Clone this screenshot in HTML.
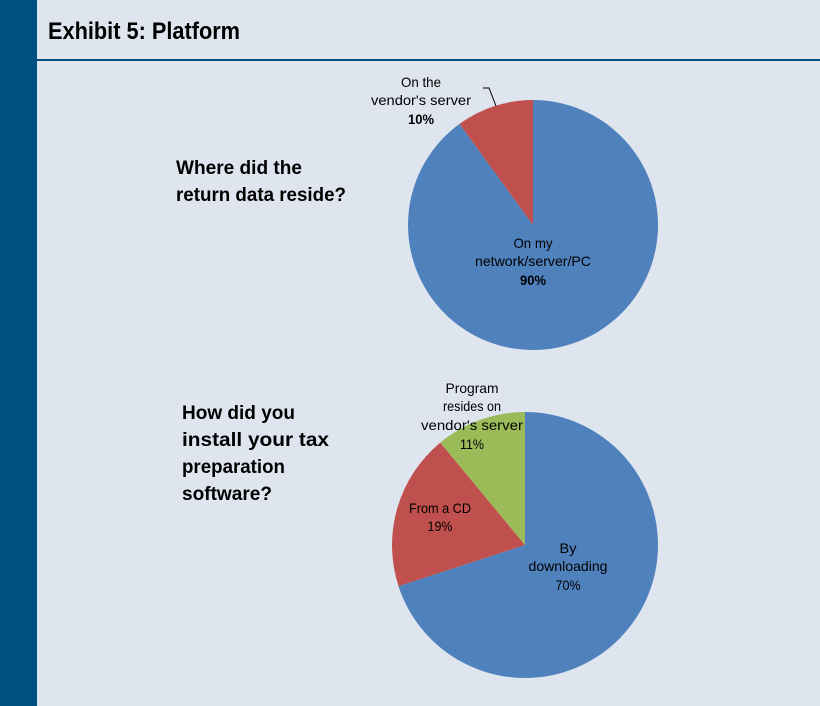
<!DOCTYPE html>
<html><head><style>body{margin:0;background:#dfe5ef}</style></head><body>
<svg width="820" height="706" xmlns="http://www.w3.org/2000/svg" style="display:block">
<rect width="820" height="706" fill="#dfe5ef"/>
<rect x="0" y="0" width="37" height="706" fill="#00507f"/>
<rect x="37" y="59" width="783" height="2" fill="#00507f"/>
<text x="48" y="39" font-family="Liberation Sans, sans-serif" font-weight="bold" font-size="24" textLength="192" lengthAdjust="spacingAndGlyphs">Exhibit 5: Platform</text>
<g font-family="Liberation Sans, sans-serif" font-weight="bold" font-size="19">
<text x="176" y="174" textLength="126" lengthAdjust="spacingAndGlyphs">Where did the</text>
<text x="176" y="201" textLength="170" lengthAdjust="spacingAndGlyphs">return data reside?</text>
<text x="182" y="419" textLength="113" lengthAdjust="spacingAndGlyphs">How did you</text>
<text x="182" y="446" textLength="147" lengthAdjust="spacingAndGlyphs">install your tax</text>
<text x="182" y="473" textLength="103" lengthAdjust="spacingAndGlyphs">preparation</text>
<text x="182" y="500" textLength="90" lengthAdjust="spacingAndGlyphs">software?</text>
</g>
<path d="M533,225 L533,100 A125,125 0 1 1 459.5,123.9 Z" fill="#4f81bd"/>
<path d="M533,225 L459.5,123.9 A125,125 0 0 1 533,100 Z" fill="#c0504d"/>
<path d="M525,545 L525,412 A133,133 0 1 1 398.5,586.1 Z" fill="#4f81bd"/>
<path d="M525,545 L398.5,586.1 A133,133 0 0 1 440.3,442.6 Z" fill="#c0504d"/>
<path d="M525,545 L440.3,442.6 A133,133 0 0 1 525,412 Z" fill="#9bbb59"/>
<polyline points="483,88 489,88 496,106" fill="none" stroke="#000" stroke-width="1"/>
<g font-family="Liberation Sans, sans-serif" font-size="14" text-anchor="middle" lengthAdjust="spacingAndGlyphs">
<text x="421" y="87" textLength="40" lengthAdjust="spacingAndGlyphs">On the</text>
<text x="421" y="105" textLength="100" lengthAdjust="spacingAndGlyphs">vendor's server</text>
<text x="421" y="124" font-weight="bold" textLength="26" lengthAdjust="spacingAndGlyphs">10%</text>
<text x="533" y="248" textLength="39" lengthAdjust="spacingAndGlyphs">On my</text>
<text x="533" y="266" textLength="116" lengthAdjust="spacingAndGlyphs">network/server/PC</text>
<text x="533" y="285" font-weight="bold" textLength="26" lengthAdjust="spacingAndGlyphs">90%</text>
<text x="472" y="393" textLength="53" lengthAdjust="spacingAndGlyphs">Program</text>
<text x="472" y="411" textLength="58" lengthAdjust="spacingAndGlyphs">resides on</text>
<text x="472" y="430" textLength="102" lengthAdjust="spacingAndGlyphs">vendor's server</text>
<text x="472" y="449" textLength="24" lengthAdjust="spacingAndGlyphs">11%</text>
<text x="440" y="513" textLength="62" lengthAdjust="spacingAndGlyphs">From a CD</text>
<text x="440" y="531" textLength="25" lengthAdjust="spacingAndGlyphs">19%</text>
<text x="568" y="553" textLength="17" lengthAdjust="spacingAndGlyphs">By</text>
<text x="568" y="571" textLength="79" lengthAdjust="spacingAndGlyphs">downloading</text>
<text x="568" y="590" textLength="25" lengthAdjust="spacingAndGlyphs">70%</text>
</g>
</svg>
</body></html>
